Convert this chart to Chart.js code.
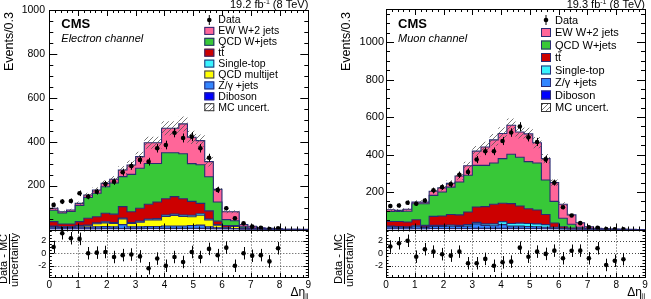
<!DOCTYPE html>
<html>
<head>
<meta charset="utf-8">
<script src="https://cdn.jsdelivr.net/npm/chart.js@4.4.0/dist/chart.umd.min.js"></script>
<style>
  body { margin: 0; background: #fff; width: 651px; height: 299px; overflow: hidden; position: relative; }
  canvas { position: absolute; }
</style>
</head>
<body>
<canvas id="hautElec" width="325" height="270" style="left:0px;top:-20px"></canvas>
<canvas id="basElec" width="325" height="99" style="left:0px;top:200px"></canvas>
<canvas id="hautMuon" width="324" height="270" style="left:327px;top:-20px"></canvas>
<canvas id="basMuon" width="324" height="99" style="left:327px;top:200px"></canvas>
<script>
// bins de 0.3 en delta eta, de 0 a 9
const bords = Array.from({ length: 31 }, (_, i) => +(i * 0.3).toFixed(2));
const centres = bords.slice(0, 30).map((x) => +(x + 0.15).toFixed(2));
const ticksY = [200, 400, 600, 800, 1000];
const ticksRatio = [-2, 0, 2];

// canal electron (composantes du haut vers le bas de la pile)
const ewElec = [9,6,7,9,11,15,15,17,30,43,53,94,94,111,111,136,120,110,69,58,36,41,10,8,4,2,1.5,0.7,0.5,0.2];
const qcdWElec = [52,50,57,74,95,107,121,142,137,170,182,186,176,210,200,205,172,176,155,87,27,22,6,4,2,2,1,0.5,0.3,0.2];
const ttElec = [20,11,11,18,31,28,39,38,52,49,59,67,75,74,80,74,63,47,37,16,8,2,3,1,1,0.5,0.2,0.2,0.1,0];
const singleTopElec = [2,2,2,3,3,4,5,4,4,4,5,5,6,6,6,6,7,7,5,2,2,2,0.5,0.5,0.2,0.1,0.1,0,0,0];
const multijetElec = [4,3,3,5,6,14,17,16,26,16,21,29,30,44,48,44,40,45,31,12,4,10,1,0.5,0.3,0.1,0,0,0,0];
const zElec = [7,6,6,7,8,9,9,8,18,8,8,9,9,11,11,11,13,15,8,5,2,2,0.5,0.5,0.2,0.1,0.1,0,0,0];
const dibosonElec = [3,3,3,3,3,3,4,4,4,4,4,5,5,5,5,5,5,5,4,3,2,2,1,0.5,0.3,0.2,0.1,0,0,0];
const incertElec = [7,6,6,8,10,12,14,15,18,20,22,27,27,32,32,34,30,28,22,13,7,7,2,1.5,1,0.5,0.3,0.2,0.1,0.1];
const donneesElec = [112,127,130,165,150,172,207,218,261,289,317,309,370,385,441,417,423,370,327,180,97,51,28,13,8,2,6];
const ratioElec = [1.0,3.2,2.4,2.3,0,0.1,0.2,-0.6,-0.3,-0.2,-0.5,-2.4,-0.85,-2.0,-0.6,-1.4,0.2,-0.6,0.7,-0.3,0.9,-2.0,0,-0.4,-0.3,-1.3,0.8];

// canal muon
const ewMuon = [9,6,11,9,9,22,22,20,32,51,76,98,123,134,155,135,148,108,114,100,75,50,24,10,4.5,2.5,1.7,1,0.5,0.3];
const qcdWMuon = [53,53,57,85,115,112,128,146,175,196,222,220,220,238,263,260,251,251,184,115,45,20,8,3,1.5,1,0.5,0.3,0.2,0.1];
const ttMuon = [25,27,26,32,8,48,50,56,56,67,82,92,105,98,106,91,79,74,54,23,9,5,2.5,1.2,0.6,0.3,0.2,0.2,0.1,0];
const singleTopMuon = [4,4,4,5,4,6,6,6,6,8,8,8,10,16,14,16,16,15,14,6,3,1.5,0.7,0.4,0.2,0.1,0.1,0,0,0];
const zMuon = [10,8,7,11,7,11,11,13,11,13,24,16,14,20,12,12,11,10,8,3,1.5,0.7,0.4,0.2,0.1,0,0,0,0,0];
const dibosonMuon = [4,4,3,4,3,5,5,5,5,5,6,6,6,6,6,6,5,5,4,3,1.5,0.8,0.4,0.2,0.1,0.1,0,0,0,0];
const incertMuon = [7,7,7,10,10,14,15,17,19,22,27,28,31,33,36,34,33,30,25,17,10,6,3,1.5,0.8,0.5,0.3,0.2,0.1,0.1];
const donneesMuon = [125,128,143,137,155,209,226,241,292,307,373,417,417,472,517,549,492,467,374,250,119,75,34,12,9,2,1,1];
const ratioMuon = [1.07,1.6,2.0,-0.55,0.65,0.26,-0.15,-0.38,0.26,-1.6,-1.6,-0.9,-2.0,-1.45,-1.34,0.9,-0.55,0.26,-0.1,0.42,-0.8,0.4,0.42,-0.8,0.8,-1.87,-1.2,-0.95];

const couleurs = {
  ew: '#ff6699', qcdW: '#38c838', tt: '#cc0000', st: '#38f4ff',
  mj: '#ffff00', z: '#3386ff', dib: '#0000ff'
};
const contour = '#2a2a72';
const police = "'Liberation Sans', Arial, sans-serif";
Chart.defaults.font.family = police;
Chart.defaults.color = '#000';

// motif hachure pour l'incertitude MC
const motif = document.createElement('canvas');
motif.width = 5; motif.height = 5;
(function () {
  const g = motif.getContext('2d');
  g.strokeStyle = '#555';
  g.lineWidth = 0.8;
  g.beginPath();
  g.moveTo(0, 5); g.lineTo(5, 0);
  g.moveTo(-1, 1); g.lineTo(1, -1);
  g.moveTo(4, 6); g.lineTo(6, 4);
  g.stroke();
})();

function cumuler(composants) {
  let somme = new Array(30).fill(0);
  return composants.map((c) => {
    somme = somme.map((s, i) => s + c[i]);
    return somme;
  });
}

function marches(valeurs) {
  return bords.map((x, i) => ({ x: x, y: valeurs[Math.min(i, 29)] }));
}

// cadre, graduations internes
function graduations(ctx, a, xs, ys, pasX, mineurX, pasY, mineurY, lx, ly) {
  ctx.save();
  ctx.strokeStyle = '#000';
  ctx.lineWidth = 1;
  ctx.beginPath();
  for (let v = xs.min; v <= xs.max + 1e-9; v += mineurX) {
    const px = Math.round(xs.getPixelForValue(v)) + 0.5;
    const maj = Math.abs(v / pasX - Math.round(v / pasX)) < 1e-6;
    const l = maj ? lx : lx / 2;
    ctx.moveTo(px, a.bottom); ctx.lineTo(px, a.bottom - l);
    ctx.moveTo(px, a.top); ctx.lineTo(px, a.top + l);
  }
  const debut = Math.ceil(ys.min / mineurY) * mineurY;
  for (let v = debut; v <= ys.max + 1e-9; v += mineurY) {
    const py = Math.round(ys.getPixelForValue(v)) + 0.5;
    const maj = Math.abs(v / pasY - Math.round(v / pasY)) < 1e-6;
    const l = maj ? ly : ly / 2;
    ctx.moveTo(a.left, py); ctx.lineTo(a.left + l, py);
    ctx.moveTo(a.right, py); ctx.lineTo(a.right - l, py);
  }
  ctx.stroke();
  ctx.strokeRect(Math.round(a.left) + 0.5, Math.round(a.top) + 0.5,
    Math.round(a.right) - Math.round(a.left), Math.round(a.bottom) - Math.round(a.top));
  ctx.restore();
}

function texteVertical(ctx, texte, x, y, align, taille) {
  ctx.save();
  ctx.translate(x, y);
  ctx.rotate(-Math.PI / 2);
  ctx.font = taille + 'px ' + police;
  ctx.textAlign = align;
  ctx.textBaseline = 'middle';
  ctx.fillStyle = '#000';
  ctx.fillText(texte, 0, 0);
  ctx.restore();
}

function legende(ctx, x0, y0, pas, entrees, taille, hBoite) {
  ctx.save();
  ctx.font = taille + 'px ' + police;
  ctx.textBaseline = 'middle';
  ctx.fillStyle = '#000';
  entrees.forEach((e, i) => {
    const y = y0 + i * pas;
    if (e.type === 'data') {
      ctx.fillStyle = '#000';
      ctx.beginPath();
      ctx.arc(x0 + 5, y, 2.3, 0, Math.PI * 2);
      ctx.fill();
      ctx.fillRect(x0 + 4.5, y - 5, 1, 10);
    } else {
      ctx.fillStyle = e.couleur === 'hach' ? ctx.createPattern(motif, 'repeat') : e.couleur;
      ctx.fillRect(x0, y - hBoite / 2, 10, hBoite);
      ctx.strokeStyle = e.couleur === 'hach' ? '#333' : contour;
      ctx.lineWidth = 1;
      ctx.strokeRect(x0 + 0.5, y - hBoite / 2 + 0.5, 9, hBoite - 1);
    }
    ctx.fillStyle = '#000';
    const xt = x0 + 14;
    if (e.nom === 'tt') {
      ctx.fillText('tt', xt, y + 0.5);
      const w1 = ctx.measureText('t').width;
      const w2 = ctx.measureText('tt').width;
      ctx.fillRect(xt + w1, y - taille * 0.55, w2 - w1, 0.9);
    } else {
      ctx.fillText(e.nom, xt, y + 0.5);
    }
  });
  ctx.restore();
}

function lumi(ctx, droite, y, valeur) {
  ctx.save();
  ctx.fillStyle = '#000';
  ctx.textBaseline = 'alphabetic';
  const f1 = '11px ' + police, f2 = '7px ' + police;
  ctx.font = f1;
  const a = valeur + ' fb', c = ' (8 TeV)';
  const wa = ctx.measureText(a).width, wc = ctx.measureText(c).width;
  ctx.font = f2;
  const wb = ctx.measureText('-1').width;
  let x = droite - wa - wb - wc;
  ctx.font = f1; ctx.fillText(a, x, y);
  ctx.font = f2; ctx.fillText('-1', x + wa, y - 4);
  ctx.font = f1; ctx.fillText(c, x + wa + wb, y);
  ctx.restore();
}

function faireHaut(id, canal) {
  const cum = cumuler(canal.composants.map((c) => c.valeurs));
  const total = cum[cum.length - 1];
  const datasets = [];
  datasets.push({
    label: 'Data',
    data: canal.donnees.map((v, i) => ({ x: centres[i], y: v })),
    showLine: false, pointRadius: 2.3, pointBackgroundColor: '#000', pointBorderWidth: 0, order: 0
  });
  datasets.push({
    label: 'MC haut',
    data: marches(total.map((t, i) => t + canal.incert[i])),
    stepped: true, borderColor: 'transparent', borderWidth: 0, pointRadius: 0, fill: '+1',
    backgroundColor: (c) => c.chart.ctx.createPattern(motif, 'repeat'), order: 1
  });
  datasets.push({
    label: 'MC bas',
    data: marches(total.map((t, i) => Math.max(t - canal.incert[i], 0))),
    stepped: true, borderColor: 'transparent', borderWidth: 0, pointRadius: 0, fill: false, order: 2
  });
  for (let k = cum.length - 1; k >= 0; k--) {
    datasets.push({
      label: canal.composants[k].nom,
      data: marches(cum[k]),
      stepped: true, borderColor: contour, borderWidth: 1.1, pointRadius: 0,
      backgroundColor: canal.composants[k].couleur,
      fill: k === 0 ? 'origin' : '+1',
      order: 3 + k
    });
  }

  const pluginHaut = {
    id: 'cadreHaut',
    afterDatasetsDraw(chart) {
      const ctx = chart.ctx, xs = chart.scales.x, ys = chart.scales.y;
      ctx.save();
      ctx.strokeStyle = '#000';
      ctx.lineWidth = 1;
      ctx.beginPath();
      canal.donnees.forEach((v, i) => {
        const px = Math.round(xs.getPixelForValue(centres[i])) + 0.5;
        const e = Math.sqrt(v);
        ctx.moveTo(px, ys.getPixelForValue(v - e));
        ctx.lineTo(px, ys.getPixelForValue(v + e));
      });
      ctx.stroke();
      ctx.restore();
    },
    afterDraw(chart) {
      const ctx = chart.ctx, a = chart.chartArea;
      graduations(ctx, a, chart.scales.x, chart.scales.y, 1, 0.2, 200, 50, 6, 8);
      lumi(ctx, a.right, 27.5, canal.lumi);
      ctx.save();
      ctx.fillStyle = '#000';
      ctx.font = 'bold 13px ' + police;
      ctx.fillText('CMS', a.left + 12, 48);
      ctx.font = 'italic 11px ' + police;
      ctx.fillText(canal.titre, a.left + 12, 61.5);
      ctx.restore();
      texteVertical(ctx, 'Events/0.3', a.left - 39.5, 32, 'right', 12.5);
      legende(ctx, a.left + 155, 40, canal.pasLegende, canal.legende, canal.tailleLegende, canal.hBoite);
    }
  };

  new Chart(document.getElementById(id), {
    type: 'line',
    data: { datasets: datasets },
    options: {
      responsive: false,
      animation: false,
      events: [],
      layout: { padding: { left: 0, top: canal.hautPad, right: canal.droitePad, bottom: 20.5 } },
      plugins: { legend: { display: false }, tooltip: { enabled: false } },
      scales: {
        x: { type: 'linear', min: 0, max: 9, display: false },
        y: {
          type: 'linear', min: 0, max: canal.yMax,
          grid: { display: false, drawTicks: false },
          border: { display: false },
          ticks: {
            font: { size: canal.tailleTicks }, padding: canal.padTicks, color: '#000',
            callback: (v) => String(v)
          },
          afterBuildTicks: (s) => { s.ticks = ticksY.map((v) => ({ value: v })); },
          afterFit: (s) => { s.width = canal.largeurAxe; }
        }
      }
    },
    plugins: [pluginHaut]
  });
}

function faireBas(id, canal) {
  const pluginBas = {
    id: 'cadreBas',
    beforeDatasetsDraw(chart) {
      const ctx = chart.ctx, xs = chart.scales.x, ys = chart.scales.y, a = chart.chartArea;
      ctx.save();
      ctx.strokeStyle = '#444';
      ctx.lineWidth = 1;
      ctx.setLineDash([1, 2]);
      ctx.beginPath();
      for (let v = 1; v <= 8; v++) {
        const px = Math.round(xs.getPixelForValue(v)) + 0.5;
        ctx.moveTo(px, a.top); ctx.lineTo(px, a.bottom);
      }
      ticksRatio.forEach((v) => {
        const py = Math.round(ys.getPixelForValue(v)) + 0.5;
        ctx.moveTo(a.left, py); ctx.lineTo(a.right, py);
      });
      ctx.stroke();
      ctx.restore();
    },
    afterDatasetsDraw(chart) {
      const ctx = chart.ctx, xs = chart.scales.x, ys = chart.scales.y;
      ctx.save();
      ctx.strokeStyle = '#000';
      ctx.lineWidth = 1;
      ctx.beginPath();
      canal.ratio.forEach((v, i) => {
        const px = Math.round(xs.getPixelForValue(centres[i])) + 0.5;
        ctx.moveTo(px, ys.getPixelForValue(v - 1));
        ctx.lineTo(px, ys.getPixelForValue(v + 1));
      });
      ctx.stroke();
      ctx.restore();
    },
    afterDraw(chart) {
      const ctx = chart.ctx, a = chart.chartArea;
      graduations(ctx, a, chart.scales.x, chart.scales.y, 1, 0.2, 2, 0.5, 4, 5);
      // titre y en fraction
      const xf = a.left - canal.ecartFrac;
      texteVertical(ctx, 'Data - MC', xf - 5, 59, 'center', 11);
      texteVertical(ctx, 'uncertainty', xf + 5.5, 60, 'center', 11);
      ctx.save();
      ctx.fillStyle = '#000';
      ctx.fillRect(xf, 34, 1, 50);
      // titre x
      ctx.font = '7px ' + police;
      const wjj = ctx.measureText('jj').width;
      ctx.fillText('jj', a.right - wjj, 98);
      ctx.font = '12px ' + police;
      ctx.textAlign = 'right';
      ctx.fillText('Δη', a.right - wjj, 95.5);
      ctx.restore();
    }
  };

  new Chart(document.getElementById(id), {
    type: 'line',
    data: {
      datasets: [{
        label: 'ratio',
        data: canal.ratio.map((v, i) => ({ x: centres[i], y: v })),
        showLine: false, pointRadius: 2.3, pointBackgroundColor: '#000', pointBorderWidth: 0
      }]
    },
    options: {
      responsive: false,
      animation: false,
      events: [],
      layout: { padding: { left: 0, top: 29.5, right: canal.droitePad, bottom: 0 } },
      plugins: { legend: { display: false }, tooltip: { enabled: false } },
      scales: {
        x: {
          type: 'linear', min: 0, max: 9,
          grid: { display: false, drawTicks: false },
          border: { display: false },
          ticks: { stepSize: 1, font: { size: 10 }, padding: 2, color: '#000', maxRotation: 0 },
          afterFit: (s) => { s.height = 22; }
        },
        y: {
          type: 'linear', min: -3.8, max: 3.8,
          grid: { display: false, drawTicks: false },
          border: { display: false },
          ticks: { font: { size: 9 }, padding: 3, color: '#000' },
          afterBuildTicks: (s) => { s.ticks = ticksRatio.map((v) => ({ value: v })); },
          afterFit: (s) => { s.width = canal.largeurAxe; }
        }
      }
    },
    plugins: [pluginBas]
  });
}

const legendeElec = [
  { type: 'data', nom: 'Data' },
  { nom: 'EW W+2 jets', couleur: couleurs.ew },
  { nom: 'QCD W+jets', couleur: couleurs.qcdW },
  { nom: 'tt', couleur: couleurs.tt },
  { nom: 'Single-top', couleur: couleurs.st },
  { nom: 'QCD multijet', couleur: couleurs.mj },
  { nom: 'Z/γ +jets', couleur: couleurs.z },
  { nom: 'Diboson', couleur: couleurs.dib },
  { nom: 'MC uncert.', couleur: 'hach' }
];
const legendeMuon = legendeElec.filter((e) => e.nom !== 'QCD multijet');

faireHaut('hautElec', {
  composants: [
    { nom: 'Diboson', valeurs: dibosonElec, couleur: couleurs.dib },
    { nom: 'Z/γ +jets', valeurs: zElec, couleur: couleurs.z },
    { nom: 'QCD multijet', valeurs: multijetElec, couleur: couleurs.mj },
    { nom: 'Single-top', valeurs: singleTopElec, couleur: couleurs.st },
    { nom: 'tt', valeurs: ttElec, couleur: couleurs.tt },
    { nom: 'QCD W+jets', valeurs: qcdWElec, couleur: couleurs.qcdW },
    { nom: 'EW W+2 jets', valeurs: ewElec, couleur: couleurs.ew }
  ],
  donnees: donneesElec, incert: incertElec, yMax: 1000,
  lumi: '19.2', titre: 'Electron channel', legende: legendeElec,
  pasLegende: 10.9, tailleLegende: 10.5, hBoite: 8, largeurAxe: 49.3,
  hautPad: 30, droitePad: 16.7, tailleTicks: 10.5, padTicks: 4.3
});
faireBas('basElec', { ratio: ratioElec, droitePad: 16.7, largeurAxe: 49.3, ecartFrac: 40.3 });

faireHaut('hautMuon', {
  composants: [
    { nom: 'Diboson', valeurs: dibosonMuon, couleur: couleurs.dib },
    { nom: 'Z/γ +jets', valeurs: zMuon, couleur: couleurs.z },
    { nom: 'Single-top', valeurs: singleTopMuon, couleur: couleurs.st },
    { nom: 'tt', valeurs: ttMuon, couleur: couleurs.tt },
    { nom: 'QCD W+jets', valeurs: qcdWMuon, couleur: couleurs.qcdW },
    { nom: 'EW W+2 jets', valeurs: ewMuon, couleur: couleurs.ew }
  ],
  donnees: donneesMuon, incert: incertMuon, yMax: 1176,
  lumi: '19.3', titre: 'Muon channel', legende: legendeMuon,
  pasLegende: 12.5, tailleLegende: 11, hBoite: 9, largeurAxe: 59,
  hautPad: 29, droitePad: 6, tailleTicks: 11, padTicks: 2
});
faireBas('basMuon', { ratio: ratioMuon, droitePad: 6, largeurAxe: 59, ecartFrac: 42 });
</script>
</body>
</html>
